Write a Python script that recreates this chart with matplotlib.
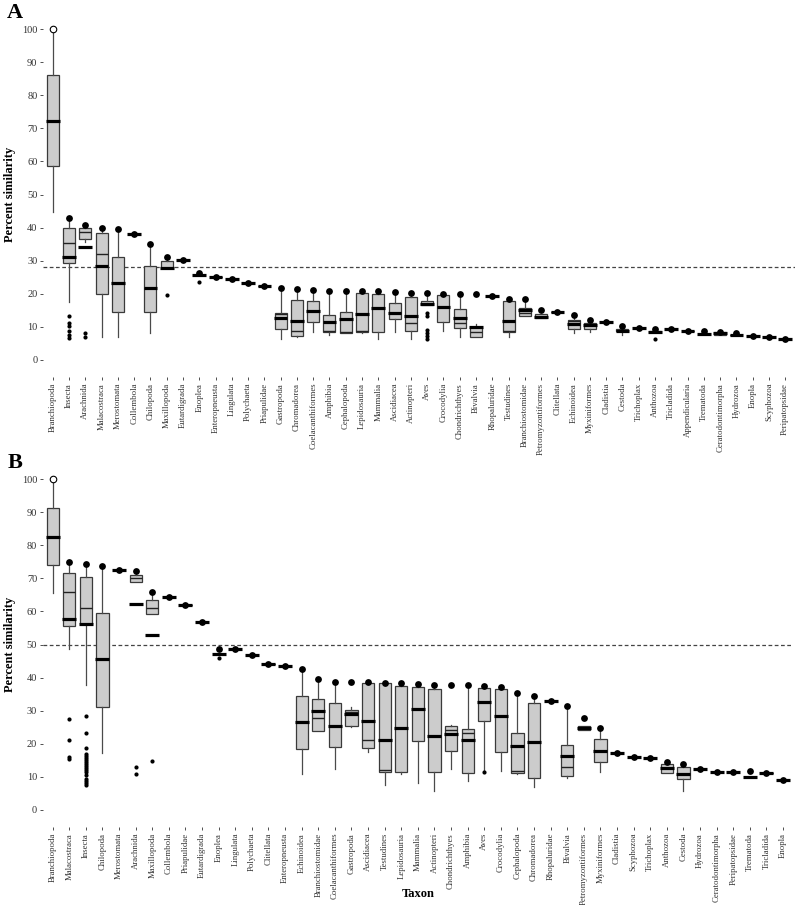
import matplotlib
matplotlib.use("Agg")
import matplotlib.pyplot as plt

plt.rcParams["font.family"] = ["Liberation Serif", "DejaVu Serif"]

# ---- panel A ----
a_taxa = ["Branchiopoda", "Insecta", "Arachnida", "Malacostraca", "Merostomata", "Collembola", "Chilopoda",
          "Maxillopoda", "Eutardigrada", "Enoplea", "Enteropneusta", "Lingulata", "Polychaeta", "Priapulidae",
          "Gastropoda", "Chromadorea", "Coelacanthiformes", "Amphibia", "Cephalopoda", "Lepidosauria", "Mammalia",
          "Ascidiacea", "Actinopteri", "Aves", "Crocodylia", "Chondrichthyes", "Bivalvia", "Rhopaluridae",
          "Testudines", "Branchiostomidae", "Petromyzontiformes", "Clitellata", "Echinoidea", "Myxiniformes",
          "Cladistia", "Cestoda", "Trichoplax", "Anthozoa", "Tricladida", "Appendicularia", "Trematoda",
          "Ceratodontimorpha", "Hydrozoa", "Enopla", "Scyphozoa", "Peripatopsidae"]
a_lo = [44.8, 17.6, 35.5, 7.0, 6.8, 38.0, 8.1, 27.7, 30.1, 25.7, 25.1, 24.6, 23.2, 22.5,
        6.3, 6.8, 8.4, 7.5, 8.2, 8.1, 6.3, 8.3, 6.3, 16.6, 8.6, 6.9, 6.8, 19.3,
        7.0, 13.3, 12.8, 14.4, 8.1, 8.3, 11.6, 7.4, 9.8, 8.3, 9.3, 8.7, 7.8,
        7.6, 7.4, 7.3, 6.8, 6.4]
a_q1 = [58.5, 29.2, 36.5, 19.9, 14.6, 38.0, 14.6, 27.7, 30.1, 25.7, 25.1, 24.6, 23.2, 22.5,
        9.4, 7.3, 11.4, 8.3, 8.2, 8.5, 8.5, 12.3, 8.8, 16.6, 11.4, 9.6, 6.8, 19.3,
        8.3, 13.3, 12.8, 14.4, 9.3, 9.3, 11.6, 8.6, 9.8, 8.3, 9.3, 8.7, 7.8,
        7.6, 7.4, 7.3, 6.8, 6.4]
a_med = [72.3, 35.4, 38.6, 32.0, 23.2, 38.0, 21.8, 27.7, 30.1, 25.7, 25.1, 24.6, 23.2, 22.5,
         13.8, 8.8, 14.8, 8.8, 8.3, 8.6, 15.7, 14.2, 11.3, 16.8, 16.1, 11.3, 8.3, 19.3,
         8.6, 14.1, 13.1, 14.4, 11.8, 10.5, 11.6, 8.8, 9.8, 8.5, 9.3, 8.7, 7.8,
         8.1, 7.4, 7.3, 6.8, 6.4]
a_q3 = [86.0, 39.8, 40.0, 38.3, 31.2, 38.0, 28.4, 29.9, 30.1, 25.7, 25.1, 24.6, 23.2, 22.5,
        14.3, 18.1, 17.8, 13.5, 14.4, 20.3, 19.9, 17.3, 19.1, 17.9, 19.5, 15.3, 10.1, 19.3,
        17.9, 15.8, 13.8, 14.4, 12.1, 11.1, 11.6, 9.4, 9.8, 8.8, 9.3, 8.7, 7.8,
        8.5, 7.4, 7.3, 6.8, 6.4]
a_hi = [100.0, 42.8, 40.8, 40.0, 39.6, 38.0, 35.0, 31.0, 30.1, 25.7, 25.1, 24.6, 23.2, 22.5,
        21.7, 21.3, 21.1, 20.9, 20.9, 20.8, 20.8, 20.6, 20.1, 20.1, 19.9, 19.9, 11.0, 19.3,
        18.4, 18.3, 13.8, 14.4, 13.6, 12.1, 11.6, 10.3, 9.8, 8.8, 9.3, 8.7, 7.8,
        8.5, 7.4, 7.3, 6.8, 6.4]
a_thick = [72.3, 31.2, 34.2, 28.5, 23.2, 38.0, 21.8, 27.7, 30.1, 25.7, 25.1, 24.6, 23.2, 22.5,
           12.8, 11.8, 14.8, 11.4, 12.3, 13.8, 15.7, 14.2, 13.2, 16.8, 16.1, 12.6, 10.1, 19.3,
           11.8, 15.0, 13.1, 14.4, 11.0, 10.5, 11.6, 8.8, 9.8, 8.5, 9.3, 8.7, 7.8,
           8.1, 7.4, 7.3, 6.8, 6.4]
a_top = [None, 42.8, 40.8, 40.0, 39.6, 38.0, 35.0, 31.0, 30.1, 26.4, 25.1, 24.6, 23.2, 22.5,
         21.7, 21.3, 21.1, 20.9, 20.9, 20.8, 20.8, 20.6, 20.1, 20.1, 19.9, 19.9, 19.8, 19.3,
         18.4, 18.3, 15.0, 14.4, 13.6, 12.1, 11.6, 10.3, 9.8, 9.3, 9.3, 8.7, 8.8,
         8.3, 8.0, 7.3, 6.8, 6.4]
a_out = {"Insecta": [13.3, 11.1, 10.3, 8.6, 7.6, 6.5], "Arachnida": [8.1, 6.8], "Maxillopoda": [19.6],
         "Enoplea": [23.7], "Aves": [14.3, 13.3, 9.1, 8.1, 7.3, 6.3], "Anthozoa": [6.4]}
a_hollow = {"Branchiopoda": 100.0}
a_cut = 28.0

# ---- panel B ----
b_taxa = ["Branchiopoda", "Malacostraca", "Insecta", "Chilopoda", "Merostomata", "Arachnida", "Maxillopoda",
          "Collembola", "Priapulidae", "Eutardigrada", "Enoplea", "Lingulata", "Polychaeta", "Clitellata",
          "Enteropneusta", "Echinoidea", "Branchiostomidae", "Coelacanthiformes", "Gastropoda", "Ascidiacea",
          "Testudines", "Lepidosauria", "Mammalia", "Actinopteri", "Chondrichthyes", "Amphibia", "Aves",
          "Crocodylia", "Cephalopoda", "Chromadorea", "Rhopaluridae", "Bivalvia", "Petromyzontiformes",
          "Myxiniformes", "Cladistia", "Scyphozoa", "Trichoplax", "Anthozoa", "Cestoda", "Hydrozoa",
          "Ceratodontimorpha", "Peripatopsidae", "Trematoda", "Tricladida", "Enopla"]
b_lo = [65.5, 48.5, 37.8, 17.3, 72.4, 68.8, 59.1, 64.5, 61.8, 56.9, 47.1, 48.5, 46.7, 44.2,
        43.6, 10.8, 23.9, 12.4, 25.2, 17.6, 7.6, 10.8, 8.1, 5.8, 12.4, 8.6, 11.8,
        11.8, 11.0, 7.0, 32.8, 9.6, 24.2, 11.4, 17.1, 16.1, 15.6, 11.1, 5.8, 12.3,
        11.6, 11.6, 10.1, 11.1, 9.1]
b_q1 = [73.9, 55.6, 56.2, 31.2, 72.4, 68.8, 59.1, 64.5, 61.8, 56.9, 47.1, 48.5, 46.7, 44.2,
        43.6, 18.4, 23.9, 18.9, 25.4, 18.6, 11.5, 11.5, 20.9, 11.5, 17.8, 11.3, 27.0,
        17.6, 11.3, 9.8, 32.8, 10.4, 24.2, 14.6, 17.1, 16.1, 15.6, 11.1, 9.4, 12.3,
        11.6, 11.6, 10.1, 11.1, 9.1]
b_med = [82.6, 66.0, 61.1, 45.5, 72.4, 70.0, 60.9, 64.5, 61.8, 56.9, 47.1, 48.5, 46.7, 44.2,
         43.6, 26.7, 27.9, 25.5, 29.5, 21.0, 12.1, 24.9, 30.5, 22.2, 24.2, 23.4, 32.6,
         28.4, 11.9, 20.4, 32.8, 13.1, 25.2, 17.9, 17.1, 16.1, 15.6, 12.6, 10.9, 12.3,
         11.6, 11.6, 10.1, 11.1, 9.1]
b_q3 = [91.3, 71.7, 70.5, 59.4, 72.4, 70.9, 63.4, 64.5, 61.8, 56.9, 47.1, 48.5, 46.7, 44.2,
        43.6, 34.5, 33.4, 32.2, 30.2, 38.3, 38.3, 37.5, 37.2, 36.7, 25.3, 24.4, 37.0,
        36.7, 23.4, 32.2, 32.8, 19.5, 25.4, 21.3, 17.1, 16.1, 15.6, 13.8, 13.1, 12.3,
        11.6, 11.6, 10.1, 11.1, 9.1]
b_hi = [100.0, 74.8, 74.2, 73.8, 72.4, 72.1, 66.0, 64.5, 61.8, 56.9, 47.1, 48.5, 46.7, 44.2,
        43.6, 42.6, 39.7, 38.7, 31.2, 38.6, 38.3, 38.3, 38.0, 37.8, 25.8, 37.8, 37.5,
        37.1, 35.2, 34.5, 32.8, 31.5, 25.4, 24.7, 17.1, 16.1, 15.6, 14.4, 13.8, 12.3,
        11.6, 11.6, 10.1, 11.1, 9.1]
b_thick = [82.6, 57.7, 56.3, 45.5, 72.4, 62.1, 52.9, 64.5, 61.8, 56.9, 47.1, 48.5, 46.7, 44.2,
           43.6, 26.7, 29.8, 25.5, 28.9, 27.0, 21.2, 24.9, 30.5, 22.2, 23.1, 21.0, 32.6,
           28.4, 19.4, 20.4, 32.8, 16.4, 24.7, 17.9, 17.1, 16.1, 15.6, 12.6, 10.9, 12.3,
           11.6, 11.6, 10.1, 11.1, 9.1]
b_top = [None, 74.8, 74.2, 73.8, 72.4, 72.1, 66.0, 64.5, 61.8, 56.9, 48.6, 48.5, 46.7, 44.2,
         43.6, 42.6, 39.7, 38.7, 38.7, 38.6, 38.3, 38.3, 38.0, 37.8, 37.8, 37.8, 37.5,
         37.1, 35.2, 34.5, 32.8, 31.5, 27.7, 24.7, 17.1, 16.1, 15.6, 14.4, 13.8, 12.5,
         11.6, 11.6, 11.8, 11.1, 9.1]
b_out = {"Malacostraca": [27.6, 21.0, 16.0, 15.4],
         "Insecta": [28.4, 23.3, 18.8, 16.8, 16.2, 15.6, 15.0, 14.4, 13.8, 13.2, 12.6, 12.0, 11.4, 10.6,
                     9.5, 8.7, 8.0, 7.5],
         "Arachnida": [13.1, 10.8], "Maxillopoda": [14.8], "Enoplea": [45.8], "Aves": [11.6]}
b_hollow = {"Branchiopoda": 100.0}
b_cut = 50.0

W, H = 800, 905


def panel(ax, taxa, lo, q1, med, q3, hi, thick, top, out, hollow, cut):
    stats = [dict(whislo=l, q1=a, med=m, q3=b, whishi=h, fliers=[]) for l, a, m, b, h in zip(lo, q1, med, q3, hi)]
    pos = list(range(1, len(taxa) + 1))
    ax.bxp(stats, positions=pos, widths=0.74, patch_artist=True, showcaps=False,
           boxprops=dict(facecolor="#cccccc", edgecolor="#3a3a3a", linewidth=0.9),
           whiskerprops=dict(color="#4a4a4a", linewidth=0.9),
           medianprops=dict(color="#222222", linewidth=1.0))
    ax.hlines(thick, [p - 0.42 for p in pos], [p + 0.42 for p in pos], color="black", linewidth=2.3, zorder=4)
    tx = [p for p, t in zip(pos, top) if t is not None]
    ty = [t for t in top if t is not None]
    ax.scatter(tx, ty, s=24, color="black", zorder=5, linewidths=0)
    for name, vals in out.items():
        p = taxa.index(name) + 1
        ax.scatter([p] * len(vals), vals, s=9, color="black", zorder=5, linewidths=0)
    for name, v in hollow.items():
        p = taxa.index(name) + 1
        ax.scatter([p], [v], s=22, facecolor="white", edgecolor="black", linewidths=0.8, zorder=5)
    ax.axhline(cut, color="#444444", linestyle=(0, (3, 2)), linewidth=0.9, zorder=1)
    ax.set_xlim(0.4, len(taxa) + 0.6)
    ax.set_ylim(-5, 105)
    ax.set_yticks(range(0, 101, 10))
    ax.set_xticks(pos)
    ax.set_xticklabels(taxa, rotation=90, fontsize=6.3, color="#333333")
    ax.tick_params(axis="y", labelsize=7.5, labelcolor="#333333", length=2.5, width=0.6, color="#333333", pad=1.5)
    ax.tick_params(axis="x", length=2.5, width=0.6, color="#333333", pad=2)
    for s in ax.spines.values():
        s.set_visible(False)
    ax.set_ylabel("Percent similarity", fontsize=9, fontweight="bold")
    ax.yaxis.set_label_coords(-0.036, 0.5)


fig = plt.figure(figsize=(W / 100, H / 100), dpi=100)
ax_a = fig.add_axes([43 / W, 1 - 376.5 / H, (795 - 43) / W, (376.5 - 12.5) / H])
ax_b = fig.add_axes([42.7 / W, 1 - 826.5 / H, (793 - 42.7) / W, (826.5 - 462.5) / H])
panel(ax_a, a_taxa, a_lo, a_q1, a_med, a_q3, a_hi, a_thick, a_top, a_out, a_hollow, a_cut)
panel(ax_b, b_taxa, b_lo, b_q1, b_med, b_q3, b_hi, b_thick, b_top, b_out, b_hollow, b_cut)
fig.text(15 / W, 1 - 13 / H, "A", fontsize=16, fontweight="bold", ha="center", va="center")
fig.text(15 / W, 1 - 463 / H, "B", fontsize=16, fontweight="bold", ha="center", va="center")
fig.text(418 / W, 1 - 894 / H, "Taxon", fontsize=9, fontweight="bold", ha="center", va="center")
fig.savefig("out.png", dpi=100)
